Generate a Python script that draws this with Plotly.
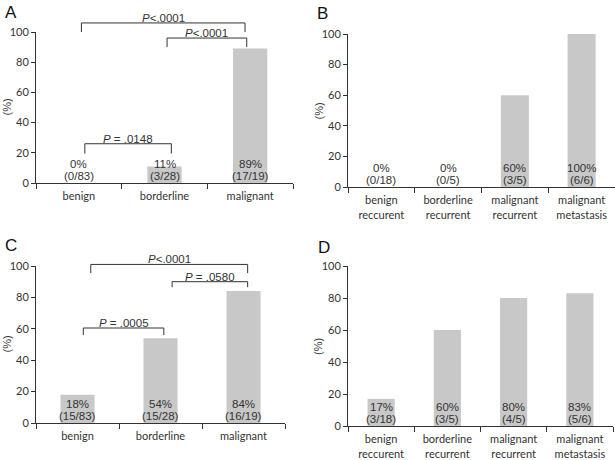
import plotly.graph_objects as go

W, H = 615, 460

# ---------------- data ----------------
cats_A = ["benign", "borderline", "malignant"]
vals_A = [0, 11, 89]
pct_A = ["0%", "11%", "89%"]
cnt_A = ["(0/83)", "(3/28)", "(17/19)"]

cats_B = ["benign<br>reccurent", "borderline<br>recurrent", "malignant<br>recurrent", "malignant<br>metastasis"]
vals_B = [0, 0, 60, 100]
pct_B = ["0%", "0%", "60%", "100%"]
cnt_B = ["(0/18)", "(0/5)", "(3/5)", "(6/6)"]

cats_C = ["benign", "borderline", "malignant"]
vals_C = [18, 54, 84]
pct_C = ["18%", "54%", "84%"]
cnt_C = ["(15/83)", "(15/28)", "(16/19)"]

cats_D = ["benign<br>reccurent", "borderline<br>recurrent", "malignant<br>recurrent", "malignant<br>metastasis"]
vals_D = [17, 60, 80, 83]
pct_D = ["17%", "60%", "80%", "83%"]
cnt_D = ["(3/18)", "(3/5)", "(4/5)", "(5/6)"]

# significance brackets: (from pos, to pos [category index units], level %, drop %, label)
brk_A = [(0.03, 1.94, 106, 6, "<i>P</i><.0001"),
         (1.03, 1.96, 96, 6, "<i>P</i><.0001"),
         (0.07, 1.08, 26, 6.5, "<i>P</i> = .0148")]
brk_C = [(0.16, 2.05, 101, 5.5, "<i>P</i><.0001"),
         (1.14, 2.05, 90, 3.5, "<i>P</i> = .0580"),
         (0.07, 1.04, 60.5, 4.5, "<i>P</i> = .0005")]

TXT = "#333333"
BAR = "#c8c8c8"
TICKFONT = dict(family="Lato, Liberation Sans, Arial", size=11, color=TXT)
LBLFONT = dict(family="Liberation Sans, Arial", size=11.5, color=TXT)

# panel geometry in pixels: x0, x1, y at value 0, y at value 100
panels = [
    dict(cats=cats_A, vals=vals_A, pct=pct_A, cnt=cnt_A, brk=brk_A, letter="A",
         px=(36, 293), py=(183, 32), bw=0.40, lpos=(3, 1)),
    dict(cats=cats_B, vals=vals_B, pct=pct_B, cnt=cnt_B, brk=[], letter="B",
         px=(348, 615), py=(187, 34), bw=0.42, lpos=(315, 2)),
    dict(cats=cats_C, vals=vals_C, pct=pct_C, cnt=cnt_C, brk=brk_C, letter="C",
         px=(36, 285), py=(423, 266), bw=0.41, lpos=(3, 234)),
    dict(cats=cats_D, vals=vals_D, pct=pct_D, cnt=cnt_D, brk=[], letter="D",
         px=(348, 613), py=(426, 266), bw=0.41, lpos=(316, 236)),
]

fig = go.Figure()
annotations = []
shapes = []

for k, p in enumerate(panels, start=1):
    xa = "x" if k == 1 else f"x{k}"
    ya = "y" if k == 1 else f"y{k}"
    xkey = "xaxis" if k == 1 else f"xaxis{k}"
    ykey = "yaxis" if k == 1 else f"yaxis{k}"

    fig.add_trace(go.Bar(x=p["cats"], y=p["vals"], xaxis=xa, yaxis=ya,
                         marker=dict(color=BAR, line=dict(width=0)),
                         width=p["bw"], showlegend=False, hoverinfo="skip"))

    fig.update_layout(**{
        xkey: dict(domain=[p["px"][0] / W, min(p["px"][1] / W, 1)], anchor=ya,
                   type="category", categoryorder="array", categoryarray=p["cats"],
                   showline=True, linecolor="#333333", linewidth=1,
                   ticks="outside", tickson="boundaries", ticklen=5,
                   tickcolor="#333333", tickfont=TICKFONT, showgrid=False,
                   zeroline=False, fixedrange=True, ticklabelstandoff=3),
        ykey: dict(domain=[1 - p["py"][0] / H, 1 - p["py"][1] / H], anchor=xa,
                   range=[0, 100], tickvals=[0, 20, 40, 60, 80, 100],
                   showline=True, linecolor="#333333", linewidth=1,
                   ticks="outside", ticklen=4, tickcolor="#333333",
                   tickfont=TICKFONT, showgrid=False, zeroline=False,
                   fixedrange=True),
    })

    # bar labels (two lines, tight spacing)
    for i, c in enumerate(p["cats"]):
        annotations.append(dict(x=c, y=0, xref=xa, yref=ya, yanchor="bottom",
                                yshift=-1, text=p["cnt"][i],
                                showarrow=False, font=LBLFONT))
        annotations.append(dict(x=c, y=0, xref=xa, yref=ya, yanchor="bottom",
                                yshift=11, text=p["pct"][i],
                                showarrow=False, font=LBLFONT))

    # y title
    annotations.append(dict(x=0, y=0.5, xref=f"{xa} domain", yref=f"{ya} domain",
                            xanchor="center", xshift=-30, text="(%)", textangle=-90,
                            showarrow=False,
                            font=dict(family="Liberation Sans, Arial", size=11, color=TXT)))

    # panel letter
    annotations.append(dict(x=p["lpos"][0] / W, y=1 - p["lpos"][1] / H, xref="paper",
                            yref="paper", xanchor="left", yanchor="top",
                            text=p["letter"], showarrow=False,
                            font=dict(family="Liberation Sans, Arial", size=17, color="#111111")))

    # brackets
    for (i0, i1, lvl, drop, lab) in p["brk"]:
        top = lvl / 100
        bot = (lvl - drop) / 100
        shapes.append(dict(type="path", xref=xa, yref=f"{ya} domain",
                           path=f"M {i0},{bot} L {i0},{top} L {i1},{top} L {i1},{bot}",
                           line=dict(color="#333333", width=1)))
        annotations.append(dict(x=(i0 + i1) / 2, y=top, xref=xa, yref=f"{ya} domain",
                                yanchor="bottom", yshift=-3, text=lab, showarrow=False,
                                font=LBLFONT))

fig.update_layout(width=W, height=H,
                  margin=dict(l=0, r=0, t=0, b=0, autoexpand=False),
                  paper_bgcolor="white", plot_bgcolor="white",
                  annotations=annotations, shapes=shapes, bargap=0.5)

fig.write_html("out.html")
